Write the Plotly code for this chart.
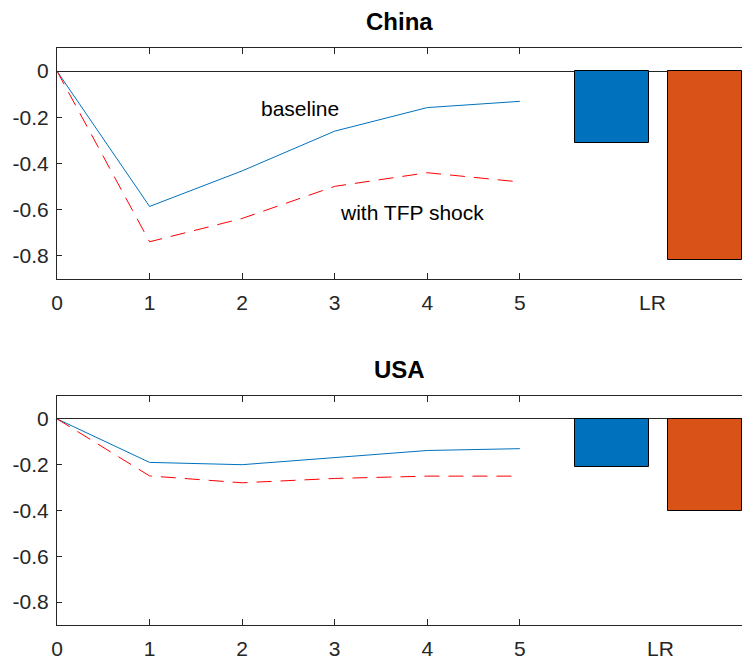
import plotly.graph_objects as go

periods = [0, 1, 2, 3, 4, 5]
china_baseline = [0, -0.586, -0.432, -0.26, -0.158, -0.131]
china_tfp = [0, -0.739, -0.638, -0.499, -0.44, -0.48]
china_lr = [-0.311, -0.819]
usa_baseline = [0, -0.19, -0.20, -0.17, -0.138, -0.13]
usa_tfp = [0, -0.249, -0.279, -0.26, -0.25, -0.25]
usa_lr = [-0.21, -0.40]
lr_positions = [6, 7]
bar_colors = ["#0072BD", "#D95319"]
panel_titles = ["China", "USA"]
xtick_labels = ["0", "1", "2", "3", "4", "5"]
ytick_vals = [0, -0.2, -0.4, -0.6, -0.8]
ytick_text = ["0", "-0.2", "-0.4", "-0.6", "-0.8"]

FONT = "Liberation Sans, Arial, sans-serif"
TXT = "#262626"

fig = go.Figure()

panels = [
    (china_baseline, china_tfp, china_lr, "x", "y"),
    (usa_baseline, usa_tfp, usa_lr, "x2", "y2"),
]
for base, tfp, lr, xa, ya in panels:
    fig.add_trace(go.Scatter(x=periods, y=base, mode="lines",
                             line=dict(color="#0072BD", width=1),
                             xaxis=xa, yaxis=ya, showlegend=False))
    fig.add_trace(go.Scatter(x=periods, y=tfp, mode="lines",
                             line=dict(color="#FF0000", width=1, dash="15px,9px"),
                             xaxis=xa, yaxis=ya, showlegend=False))
    fig.add_trace(go.Bar(x=lr_positions, y=lr, width=0.8,
                         marker=dict(color=bar_colors, line=dict(color="#000000", width=1)),
                         xaxis=xa, yaxis=ya, showlegend=False))

xcommon = dict(range=[0, 7.4], tickvals=periods, ticktext=xtick_labels,
               showline=True, mirror="allticks", linecolor=TXT, linewidth=1,
               ticks="inside", ticklen=6, tickcolor=TXT, showgrid=False,
               zeroline=False, ticklabelstandoff=5,
               tickfont=dict(family=FONT, size=21, color=TXT))
ycommon = dict(range=[-0.9, 0.1], tickvals=ytick_vals, ticktext=ytick_text,
               showline=True, mirror=True, linecolor=TXT, linewidth=1,
               ticks="inside", ticklen=5, tickcolor=TXT, showgrid=False,
               zeroline=True, zerolinecolor=TXT, ticklabelstandoff=3,
               zerolinewidth=1, tickfont=dict(family=FONT, size=21, color=TXT))

fig.update_layout(
    width=742, height=661,
    margin=dict(l=57, r=0, t=48, b=36),
    paper_bgcolor="white", plot_bgcolor="white",
    bargap=0,
    xaxis=dict(domain=[0, 1], anchor="y", **xcommon),
    yaxis=dict(domain=[0.5997, 1], anchor="x", **ycommon),
    xaxis2=dict(domain=[0, 1], anchor="y2", **xcommon),
    yaxis2=dict(domain=[0, 0.3969], anchor="x2", **ycommon),
)

annotations = [
    dict(text="<b>%s</b>" % panel_titles[0], x=0.5, y=1, xref="paper", yref="paper",
         xanchor="center", yanchor="bottom", yshift=11, showarrow=False,
         font=dict(family=FONT, size=24, color="#000000")),
    dict(text="<b>%s</b>" % panel_titles[1], x=0.5, y=0.3969, xref="paper", yref="paper",
         xanchor="center", yanchor="bottom", yshift=11, showarrow=False,
         font=dict(family=FONT, size=24, color="#000000")),
    dict(text="baseline", x=2.62, y=-0.161, xref="x", yref="y", showarrow=False,
         font=dict(family=FONT, size=21, color="#000000")),
    dict(text="with TFP shock", x=3.84, y=-0.611, xref="x", yref="y", showarrow=False,
         font=dict(family=FONT, size=21, color="#000000")),
    dict(text="LR", x=6.43, y=-0.9, xref="x", yref="y", yanchor="top", yshift=-10,
         showarrow=False, font=dict(family=FONT, size=21, color=TXT)),
    dict(text="LR", x=6.52, y=-0.9, xref="x2", yref="y2", yanchor="top", yshift=-10,
         showarrow=False, font=dict(family=FONT, size=21, color=TXT)),
]
fig.update_layout(annotations=annotations)

fig.write_html("out.html", config={"displayModeBar": False},
               post_script="document.body.style.margin='0';document.body.style.overflow='hidden';")
